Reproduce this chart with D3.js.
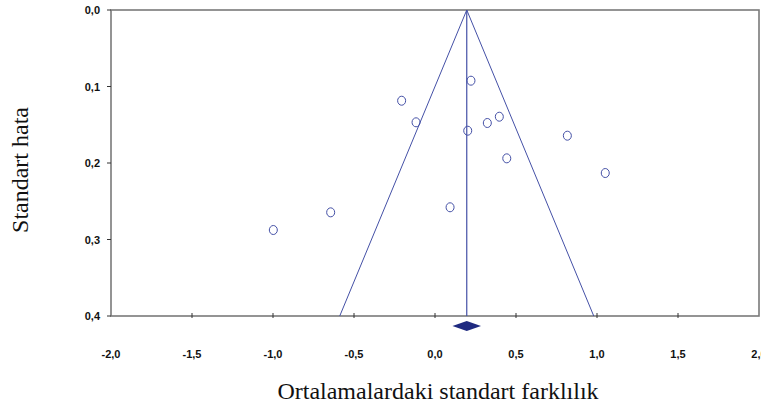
<!DOCTYPE html>
<html><head><meta charset="utf-8">
<script src="https://cdn.jsdelivr.net/npm/d3@7"></script>
<style>body{margin:0;background:#fff}svg{display:block}</style>
</head><body>
<svg id="c" width="761" height="408"></svg>
<script>
// Data
const effectSizes = [0.222, -0.206, -0.117, 0.202, 0.323, 0.397, 0.817, 0.443, 1.051, 0.093, -0.644, -0.998];
const standardErrors = [0.0924, 0.1186, 0.1468, 0.1578, 0.1477, 0.1395, 0.1643, 0.1939, 0.2131, 0.2579, 0.2645, 0.2876];
const pooledEffect = [0.196];
const pooledHalfWidth = [0.088];
const xTicks = [-2.0, -1.5, -1.0, -0.5, 0.0, 0.5, 1.0, 1.5, 2.0];
const yTicks = [0.0, 0.1, 0.2, 0.3, 0.4];
const xTitle = "Ortalamalardaki standart farklılık";
const yTitle = "Standart hata";

const svg = d3.select("#c");
const L = 111, R = 759, T = 10, B = 316;
const x = d3.scaleLinear().domain([-2, 2]).range([L, R]);
const y = d3.scaleLinear().domain([0, 0.4]).range([T, B]);
const fmt = v => d3.format(".1f")(v).replace(".", ",").replace("−", "-");
const blue = "#4450a6";

// frame
svg.append("rect").attr("x", L).attr("y", T).attr("width", R - L).attr("height", B - T)
  .attr("fill", "none").attr("stroke", "#7a7a7a").attr("stroke-width", 1.6);

// funnel
const c = pooledEffect[0];
const funnel = [[c - 1.96 * 0.4, 0.4], [c, 0], [c + 1.96 * 0.4, 0.4]];
svg.append("path").attr("d", d3.line().x(d => x(d[0])).y(d => y(d[1]))(funnel))
  .attr("fill", "none").attr("stroke", blue).attr("stroke-width", 1);
svg.append("line").attr("x1", x(c)).attr("x2", x(c)).attr("y1", y(0)).attr("y2", y(0.4))
  .attr("stroke", blue).attr("stroke-width", 1.2);

// x axis ticks and labels
xTicks.forEach(t => {
  if (t > -2 && t < 2) {
    svg.append("line").attr("x1", x(t)).attr("x2", x(t)).attr("y1", B - 3).attr("y2", B + 2)
      .attr("stroke", "#333").attr("stroke-width", 1);
  }
  svg.append("text").attr("x", x(t)).attr("y", 358).attr("text-anchor", "middle")
    .attr("font-family", "Liberation Sans, Arial, sans-serif").attr("font-weight", "bold")
    .attr("font-size", 11).attr("fill", "#111").text(fmt(t));
});
// y axis ticks and labels
yTicks.forEach(t => {
  svg.append("line").attr("x1", L - 4).attr("x2", L).attr("y1", y(t)).attr("y2", y(t))
    .attr("stroke", "#333").attr("stroke-width", 1);
  svg.append("text").attr("x", 100).attr("y", y(t) + 4).attr("text-anchor", "end")
    .attr("font-family", "Liberation Sans, Arial, sans-serif").attr("font-weight", "bold")
    .attr("font-size", 11).attr("fill", "#111").text(fmt(t));
});

// points
svg.append("g").selectAll("ellipse").data(effectSizes).join("ellipse")
  .attr("cx", (d, i) => x(d)).attr("cy", (d, i) => y(standardErrors[i]))
  .attr("rx", 4).attr("ry", 4.5)
  .attr("fill", "none").attr("stroke", blue).attr("stroke-width", 1);

// diamond
const h = pooledHalfWidth[0];
const dy = 326;
svg.append("path")
  .attr("d", `M${x(c - h)},${dy}L${x(c)},${dy - 5}L${x(c + h)},${dy}L${x(c)},${dy + 5}Z`)
  .attr("fill", "#1f2a80");

// titles
svg.append("text").attr("x", 438).attr("y", 399).attr("text-anchor", "middle")
  .attr("font-family", "Liberation Serif, Times New Roman, serif").attr("font-size", 24)
  .attr("fill", "#111").text(xTitle);
svg.append("text").attr("transform", "translate(28,170) rotate(-90)").attr("text-anchor", "middle")
  .attr("font-family", "Liberation Serif, Times New Roman, serif").attr("font-size", 24)
  .attr("fill", "#111").text(yTitle);
</script>
</body></html>
